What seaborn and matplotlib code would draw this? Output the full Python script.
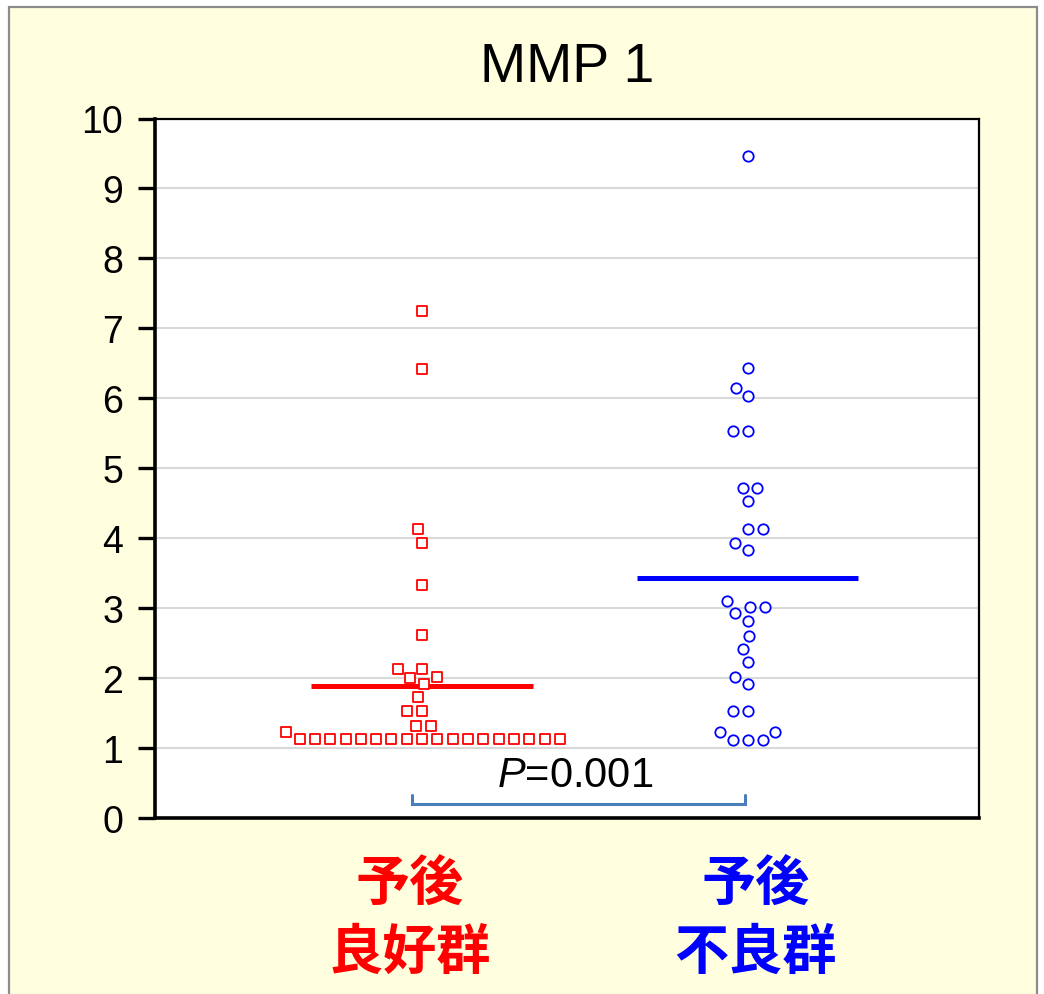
import numpy as np
import pandas as pd
import matplotlib
matplotlib.use("Agg")
import matplotlib.pyplot as plt
import seaborn as sns
import seaborn.categorical as sns_cat
from matplotlib.markers import MarkerStyle
from matplotlib.transforms import Affine2D, ScaledTranslation
from matplotlib.patches import Rectangle

# ---------------- data ----------------
title = "MMP 1"
categories = ["予後\n良好群", "予後\n不良群"]
category_colors = ["#FF0000", "#0000FF"]
good_values = [7.25, 6.42, 4.13, 3.93, 3.33, 2.62, 2.13, 2.13, 2.02, 2.00,
               1.92, 1.73, 1.53, 1.53, 1.32, 1.32, 1.23,
               1.13, 1.13, 1.13, 1.13, 1.13, 1.13, 1.13, 1.13, 1.13,
               1.13, 1.13, 1.13, 1.13, 1.13, 1.13, 1.13, 1.13, 1.13]
poor_values = [9.46, 6.43, 6.15, 6.03, 5.53, 5.53, 4.72, 4.72, 4.53, 4.13,
               4.13, 3.93, 3.83, 3.10, 3.02, 3.02, 2.93, 2.82, 2.60, 2.42,
               2.23, 2.02, 1.92, 1.53, 1.53, 1.23, 1.23, 1.12, 1.12, 1.12]
group_means = [1.89, 3.43]
y_ticks = [0, 1, 2, 3, 4, 5, 6, 7, 8, 9, 10]
p_text = r"$P$=0.001"


# let the swarm spread a bit wider than seaborn's default 0.8 category width
class WideBeeswarm(sns_cat.Beeswarm):
    def __init__(self, *args, **kwargs):
        kwargs["width"] = kwargs.get("width", 0.8) * 1.3
        super().__init__(*args, **kwargs)


sns_cat.Beeswarm = WideBeeswarm

# ---------------- style ----------------
sns.set_style("white")
plt.rcParams["font.family"] = ["Liberation Sans", "DejaVu Sans"]
plt.rcParams["text.color"] = "black"
plt.rcParams["mathtext.fontset"] = "custom"
plt.rcParams["mathtext.it"] = "Liberation Sans:italic"
plt.rcParams["mathtext.rm"] = "Liberation Sans"

df = pd.DataFrame({
    "group": [categories[0]] * len(good_values) + [categories[1]] * len(poor_values),
    "value": good_values + poor_values,
})

fig = plt.figure(figsize=(10.44, 9.95), dpi=100)
fig.patch.set_facecolor("white")
fig.patches.append(Rectangle((9 / 1044, -0.02), (1037 - 9) / 1044, 1.02 - 8 / 995,
                             transform=fig.transFigure, facecolor="#FFFFE0",
                             edgecolor="#8C8C8C", lw=1.6, zorder=-10))

ax = fig.add_axes([155 / 1044, 176 / 995, (979 - 155) / 1044, (819 - 119.5) / 995])
ax.set_facecolor("white")

shrink = 0.84
markers = ["s", "o"]
sizes = [9.2, 8.9]
for i, cat in enumerate(categories):
    sub = df[df["group"] == cat]
    n_before = len(ax.collections)
    sns.swarmplot(data=sub, x="group", y="value", order=categories, ax=ax,
                  color=category_colors[i], size=sizes[i], linewidth=1.3,
                  edgecolor=category_colors[i],
                  marker=MarkerStyle(markers[i], transform=Affine2D().scale(shrink)),
                  zorder=4, warn_thresh=1.0)
    for coll in ax.collections[n_before:]:
        coll.set_facecolor("white")
        coll.set_edgecolor(category_colors[i])
        coll.set_linewidth(1.3)

# mean lines
for i, m in enumerate(group_means):
    ax.hlines(m, i - 0.34, i + 0.34, color=category_colors[i], lw=3.6, zorder=3)

ax.set_xlim(-0.82, 1.71)
ax.set_ylim(0, 10)
ax.set_yticks(y_ticks)
ax.set_xlabel("")
ax.set_ylabel("")

ax.yaxis.grid(True, color="#D9D9D9", lw=1.5, zorder=0)
ax.xaxis.grid(False)
ax.set_axisbelow(True)

for side in ["left", "bottom"]:
    ax.spines[side].set_linewidth(2.6)
    ax.spines[side].set_color("black")
for side in ["top", "right"]:
    ax.spines[side].set_linewidth(1.6)
    ax.spines[side].set_color("black")
    ax.spines[side].set_visible(True)

ax.tick_params(axis="y", direction="out", length=12, width=2.4, colors="black",
               labelsize=27, pad=11, left=True)
ax.tick_params(axis="x", length=0, pad=27)
ax.set_xticks([0, 1])
ax.set_xticklabels(categories, fontsize=39, fontweight="bold",
                   family=["Noto Sans CJK JP", "DejaVu Sans"], linespacing=1.33)
label_shift_px = [-12, 8]
for lab, col, dx in zip(ax.get_xticklabels(), category_colors, label_shift_px):
    lab.set_color(col)
    lab.set_transform(lab.get_transform() +
                      ScaledTranslation(dx / 100, 0, fig.dpi_scale_trans))

ax.set_title(title, fontsize=40, pad=27, color="black")

# significance bracket
bx0, bx1, by0, by1 = -0.03, 0.99, 0.20, 0.33
ax.plot([bx0, bx0, bx1, bx1], [by1, by0, by0, by1], color="#4A7EBB", lw=2.2,
        clip_on=False, zorder=3, solid_joinstyle="miter")
ax.text(0.47, 0.62, p_text, ha="center", va="center", fontsize=30, zorder=5,
        color="black")

fig.savefig("out.png", dpi=100, facecolor=fig.get_facecolor())
